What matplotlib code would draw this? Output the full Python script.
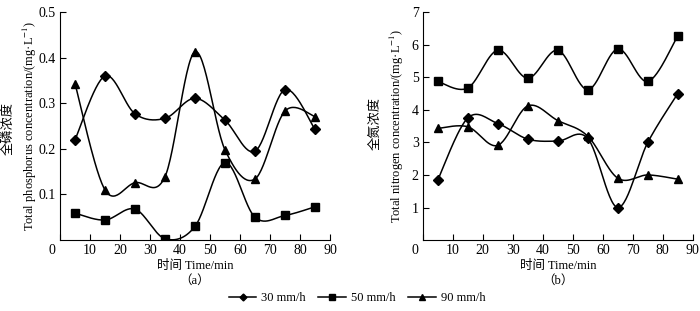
import matplotlib
matplotlib.use('Agg')
from matplotlib import pyplot as plt
from matplotlib import transforms
import numpy as np

plt.rcParams['font.family'] = ['Liberation Serif', 'Noto Sans CJK SC']
plt.rcParams['mathtext.fontset'] = 'stix'

time = [5, 15, 25, 35, 45, 55, 65, 75, 85]
series_names = ['30 mm/h', '50 mm/h', '90 mm/h']
markers = ['D', 's', '^']

tp_30 = [0.220, 0.360, 0.277, 0.267, 0.311, 0.263, 0.195, 0.330, 0.243]
tp_50 = [0.059, 0.044, 0.068, 0.003, 0.030, 0.170, 0.050, 0.054, 0.073]
tp_90 = [0.343, 0.110, 0.126, 0.139, 0.413, 0.198, 0.134, 0.283, 0.271]

tn_30 = [1.85, 3.75, 3.58, 3.10, 3.04, 3.12, 1.00, 3.00, 4.50]
tn_50 = [4.87, 4.67, 5.83, 4.97, 5.83, 4.62, 5.87, 4.87, 6.27]
tn_90 = [3.43, 3.48, 2.91, 4.12, 3.67, 3.19, 1.90, 2.00, 1.87]


def smooth(x, y, n=30):
    # bezier smoothing like a spreadsheet "smoothed line"
    p = np.column_stack([x, y]).astype(float)
    ext = np.vstack([p[0], p, p[-1]])
    out = []
    t = np.linspace(0, 1, n)[:, None]
    for i in range(len(p) - 1):
        p0, p3 = p[i], p[i + 1]
        c1 = p0 + (ext[i + 2] - ext[i]) / 6
        c2 = p3 - (ext[i + 3] - ext[i + 1]) / 6
        seg = (1 - t)**3 * p0 + 3 * (1 - t)**2 * t * c1 + 3 * (1 - t) * t**2 * c2 + t**3 * p3
        out.append(seg)
    out = np.vstack(out)
    return out[:, 0], out[:, 1]


fig = plt.figure(figsize=(7, 3.11), dpi=100)
ax1 = fig.add_axes([0.0857, 0.228, 0.3857, 0.733])
ax2 = fig.add_axes([0.604, 0.228, 0.3857, 0.733])

panels = [
    (ax1, [tp_30, tp_50, tp_90], 0.5, np.arange(0.1, 0.51, 0.1), ['0.1', '0.2', '0.3', '0.4', '0.5'],
     '全磷浓度', 'Total phosphorus concentration/(mg·L$^{-1}$)', -0.190, -0.111, 0.49, '（a）'),
    (ax2, [tn_30, tn_50, tn_90], 7, np.arange(1, 8, 1), ['1', '2', '3', '4', '5', '6', '7'],
     '全氮浓度', 'Total nitrogen concentration/(mg·L$^{-1}$)', -0.175, -0.095, 0.51, '（b）'),
]

handles = []
for ax, data, ymax, yt, ytl, cn, en, xcn, xen, ycn, tag in panels:
    handles = []
    for vals, m, name in zip(data, markers, series_names):
        sx, sy = smooth(time, vals)
        ax.plot(sx, sy, color='black', lw=1.1)
        ms = 5 if m == 'D' else 6
        ax.plot(time, vals, ls='none', marker=m, ms=ms, color='black')
        h, = ax.plot([], [], color='black', lw=1.1, marker=m, ms=ms - 1.5, label=name)
        handles.append(h)
    ax.set_xlim(0, 90)
    ax.set_ylim(0, ymax)
    ax.set_xticks(np.arange(0, 91, 10))
    ax.set_xticklabels([str(v) for v in range(0, 91, 10)])
    ax.set_yticks(yt)
    ax.set_yticklabels(ytl)
    ax.spines['top'].set_visible(False)
    ax.spines['right'].set_visible(False)
    ax.tick_params(direction='in', length=4, width=0.8, labelsize=10, pad=3)
    # shared origin label sits left of the corner
    lab0 = ax.get_xticklabels()[0]
    lab0.set_transform(lab0.get_transform() + transforms.ScaledTranslation(-0.08, 0, fig.dpi_scale_trans))
    ax.text(xcn, ycn, cn, transform=ax.transAxes, rotation=90, ha='center', va='center', fontsize=9.5)
    ax.text(xen, 0.5, en, transform=ax.transAxes, rotation=90, ha='center', va='center', fontsize=9)
    ax.set_xlabel('时间 Time/min', fontsize=9, labelpad=2)
    ax.text(0.5, -0.178, tag, transform=ax.transAxes, ha='center', va='center', fontsize=9)

fig.legend(handles=handles, loc='center', bbox_to_anchor=(0.51, 0.042), ncol=3, frameon=False,
           fontsize=9, handlelength=2.2, columnspacing=1.0, handletextpad=0.4)

fig.savefig('out.png', dpi=100)
